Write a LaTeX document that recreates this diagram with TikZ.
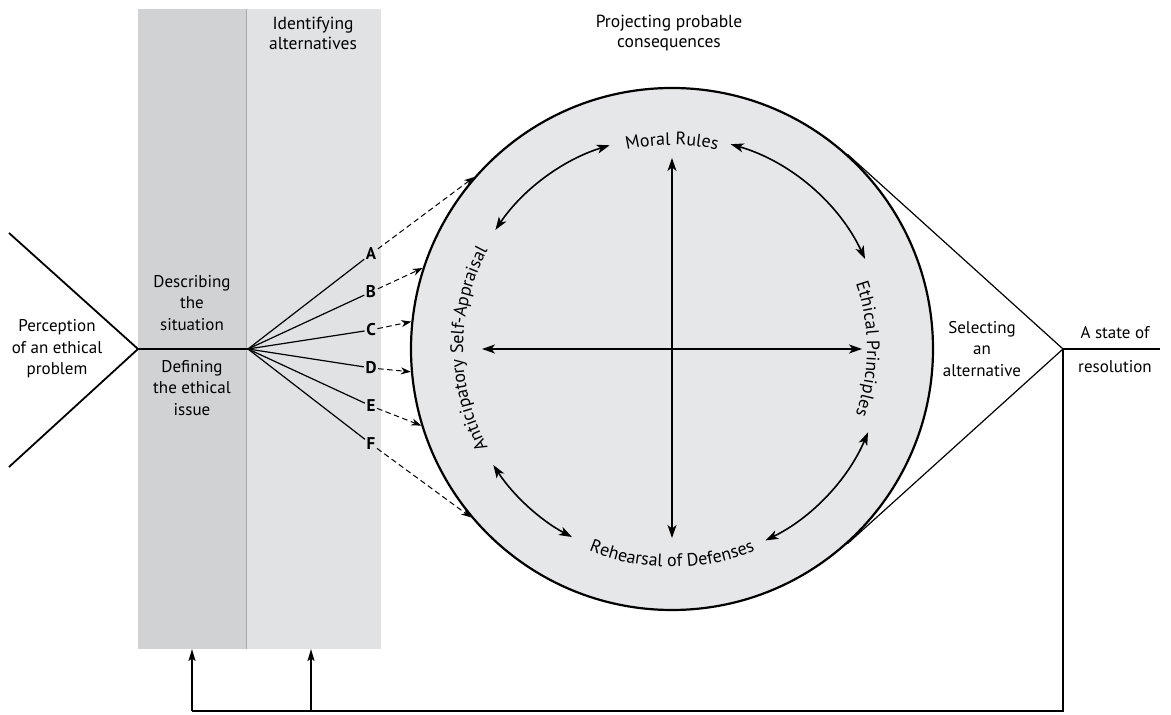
\documentclass[tikz,border=0pt]{standalone}
\usepackage{fontspec}
\setmainfont{PT Sans}
\usetikzlibrary{arrows.meta,decorations.text,calc}
\definecolor{banddark}{RGB}{209,210,212}
\definecolor{bandlight}{RGB}{225,226,228}
\definecolor{circfill}{RGB}{230,231,232}
\definecolor{divider}{RGB}{167,169,172}
\newcommand\lblfont{\fontsize{17}{21.5}\selectfont}
\newcommand\topfont{\fontsize{17.5}{20}\selectfont}
\newcommand\circfont{\fontsize{18}{21}\selectfont}
\begin{document}
\begin{tikzpicture}[x=1pt,y=1pt,
  lbl/.style={align=center,font=\lblfont,inner sep=0pt},
  toplbl/.style={align=center,font=\topfont,inner sep=0pt},
  letter/.style={font=\lblfont\bfseries,inner sep=1.5pt},
  mainline/.style={line width=1.8pt},
  thinline/.style={line width=1.2pt},
  dasharrow/.style={line width=1pt,dash pattern=on 5.5pt off 3.5pt,-{Stealth[length=10pt,width=7pt,inset=3pt]}},
  dblarrow/.style={line width=1.6pt,{Stealth[length=13pt,width=9pt,inset=3.5pt]}-{Stealth[length=13pt,width=9pt,inset=3.5pt]}},
  uparrow/.style={line width=1.8pt,-{Stealth[length=12pt,width=7pt,inset=2.5pt]}},
  curvetext/.style={decorate,decoration={text along path,text align=center,text={#1}}}
]
\useasboundingbox (0,0) rectangle (1171,715);
% bands
\fill[banddark] (138,706) rectangle (246,66);
\fill[bandlight] (246,706) rectangle (381,66);
\draw[divider,line width=0.8pt] (246,706) -- (246,66);
% top labels
\node[toplbl] (ident) at (313,682) {Identifying\\alternatives};
\node[toplbl] (proj) at (669,682) {Projecting probable\\consequences};
% circle
\node[circle,draw,line width=2.2pt,fill=circfill,minimum size=522pt,inner sep=0pt] (circ) at (672,366) {};
\coordinate (C) at (672,366);
% left V
\coordinate (vl) at (138,366);
\coordinate (lt) at (9,482);
\coordinate (lb) at (9,248);
\coordinate (fan) at (248,366);
\draw[mainline] (lt) -- (vl) -- (lb);
\draw[mainline] (vl) -- (fan);
\node[lbl] (perc) at (57,366) {Perception\\of an ethical\\problem};
\node[lbl] (desc) at (192,412) {Describing\\the\\situation};
\node[lbl] (defn) at (192,327) {Defining\\the ethical\\issue};
% letters
\node[letter] (A) at (371,461) {A};
\node[letter] (B) at (371,423) {B};
\node[letter] (Cc) at (371,385) {C};
\node[letter] (D) at (371,347) {D};
\node[letter] (E) at (371,309) {E};
\node[letter] (F) at (371,271) {F};
\foreach \n in {A,B,Cc,D,E,F} \draw[thinline] (fan) -- (\n);
\draw[dasharrow] (A) -- (circ.139.5);
\draw[dasharrow] (B) -- (circ.162.7);
\draw[dasharrow] (Cc) -- (circ.174.4);
\draw[dasharrow] (D) -- (circ.185.6);
\draw[dasharrow] (E) -- (circ.197.4);
\draw[dasharrow] (F) -- (circ.220.3);
% cross arrows
\coordinate (vt) at (672,557);
\coordinate (vb) at (672,177);
\coordinate (hl) at (482,366);
\coordinate (hr) at (862,366);
\draw[dblarrow] (vt) -- (vb);
\draw[dblarrow] (hl) -- (hr);
% curved arrows
\draw[dblarrow] (C) ++(107:213) arc[start angle=107,end angle=146,radius=213];
\draw[dblarrow] (C) ++(74:213) arc[start angle=74,end angle=25,radius=213];
\draw[dblarrow] (C) ++(-23:213) arc[start angle=-23,end angle=-64,radius=213];
\draw[dblarrow] (C) ++(213:213) arc[start angle=213,end angle=242,radius=213];
% curved texts
\path[curvetext={|\circfont|Moral Rules}] (C) ++(135:204) arc[start angle=135,end angle=45,radius=204];
\path[curvetext={|\circfont|Ethical Principles}] (C) ++(45:195) arc[start angle=45,end angle=-45,radius=195];
\path[curvetext={|\circfont|Anticipatory Self-Appraisal}] (C) ++(235:209) arc[start angle=235,end angle=125,radius=209];
\path[curvetext={|\circfont|Rehearsal of Defenses}] (C) ++(225:218) arc[start angle=225,end angle=315,radius=218];
% right side
\coordinate (V) at (1063,366);
\coordinate (rend) at (1160,366);
\draw[thinline] (circ.48) -- (V) -- (circ.-48);
\draw[mainline] (V) -- (rend);
\node[lbl] (sel) at (982,366) {Selecting\\an\\alternative};
\node[lbl] (st1) at (1115,382) {A state of};
\node[lbl] (st2) at (1115,348) {resolution};
% feedback
\coordinate (br) at (1063,4);
\coordinate (bl) at (192,4);
\coordinate (bm) at (311,4);
\coordinate (al) at (192,66);
\coordinate (am) at (311,66);
\draw[mainline] (V) -- (br) -- (bl);
\draw[uparrow] (bl) -- (al);
\draw[uparrow] (bm) -- (am);
\end{tikzpicture}
\end{document}
